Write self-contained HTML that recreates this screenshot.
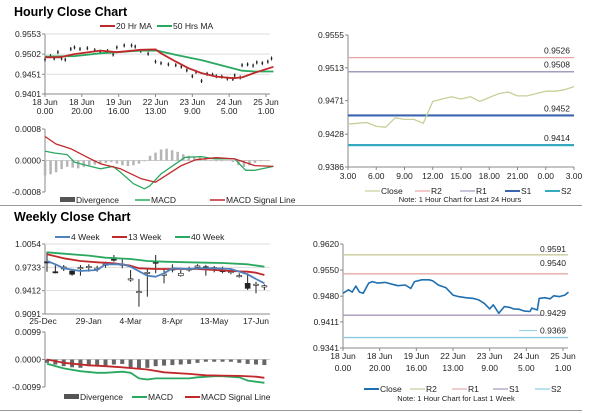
<!DOCTYPE html>
<html><head><meta charset="utf-8"><style>
body{margin:0;background:#fff;}
svg{display:block;font-family:"Liberation Sans",sans-serif;}
</style></head><body>
<svg id="c" width="600" height="413" viewBox="0 0 600 413">
<line x1="0" y1="205.5" x2="582" y2="205.5" stroke="#999"/>
<line x1="0" y1="410.5" x2="582" y2="410.5" stroke="#999"/>
<text x="14" y="16" font-size="12.5" font-weight="bold">Hourly Close Chart</text>
<text x="14" y="221" font-size="12.5" font-weight="bold">Weekly Close Chart</text>
</svg>
<script>
// ---------- data ----------
const hrHours=[0,3,5,7,9,11,14,16,19,23,27,30,34,37,39,43,47,49,52,56,60,63,67,71,74,77,80,82,85,88,91,93,96,99,102,103,106,107,110,113,115,118,121,123];
const hrClose=[0.9488,0.9497,0.9491,0.9507,0.9491,0.9488,0.9515,0.9519,0.9515,0.9517,0.9512,0.9508,0.9510,0.9501,0.9519,0.9524,0.9524,0.9521,0.9510,0.9503,0.9483,0.9479,0.9476,0.9474,0.9470,0.9461,0.9446,0.9457,0.9434,0.9452,0.9450,0.9446,0.9445,0.9440,0.9439,0.9448,0.9443,0.9474,0.9476,0.9473,0.9481,0.9479,0.9483,0.9491];
const ma20Hours=[0,8,16,30,39,52,60,63,71,78,85,93,102,107,114,124];
const ma20=[0.9494,0.9494,0.9502,0.9511,0.9507,0.9513,0.9514,0.9504,0.9483,0.9466,0.9454,0.9445,0.9441,0.9443,0.9455,0.9470];
const ma50Hours=[0,16,30,52,61,71,85,107,114,124];
const ma50=[0.9496,0.9497,0.9504,0.9511,0.9511,0.9500,0.9487,0.9460,0.9458,0.9458];
const hrTickLabels=[["18 Jun","0.00"],["18 Jun","20.00"],["19 Jun","16.00"],["22 Jun","13.00"],["23 Jun","9.00"],["24 Jun","5.00"],["25 Jun","1.00"]];
const hrTickHours=[0,20,40,60,80,100,120];
const hrMacdHours=[0,5,12,16,23,30,37,41,48,54,57,63,71,76,85,92,103,109,114,124];
const hrMacd=[0.00024,0.00019,0.00015,-0.00004,-0.00013,-0.00021,-0.00015,-0.0003,-0.00059,-0.00072,-0.00064,-0.00034,-0.00008,0.00008,0.0001,0.00004,0.00004,-0.00025,-0.00025,-0.00015];
const hrSigHours=[0,6,14,23,30,41,52,60,67,74,82,93,103,114,124];
const hrSig=[0.00061,0.00042,0.0003,0.00008,-0.00008,-0.00021,-0.00046,-0.00055,-0.00034,-0.00013,0.00002,0.00007,0.00004,-0.00013,-0.00015];
const hrDiv=[-0.00038,-0.00035,-0.0003,-0.00022,-0.00016,-0.00018,-0.0002,-0.00016,-0.00012,-0.0001,-0.00008,-0.00006,-0.00004,-0.00008,-0.00012,-0.00014,-0.00012,-0.00008,-0.00002,0.00012,0.0002,0.00028,0.0003,0.00026,0.00022,0.00016,0.00012,0.00008,0.00008,0.00004,0.00002,-0.00002,-0.00002,0,-0.00004,-0.00012,-0.00016,-0.00012,-0.00006,-0.00002,0,0];

const dayLabels=["3.00","6.00","9.00","12.00","15.00","18.00","21.00","0.00","3.00"];
const dayClose=[0.9441,0.9442,0.9443,0.9438,0.9437,0.9449,0.9447,0.9447,0.9442,0.9470,0.9473,0.9476,0.9473,0.9476,0.9470,0.9475,0.9480,0.9482,0.9477,0.9477,0.9480,0.9483,0.9483,0.9485,0.9489];
const dayLevels=[0.9526,0.9508,0.9452,0.9414];
const weekLevels=[0.9591,0.9540,0.9429,0.9369];

const wkLabels=["25-Dec","29-Jan","4-Mar","8-Apr","13-May","17-Jun"];
const wkOpen=[0.9811,0.9673,0.9711,0.9682,0.9725,0.9740,0.9720,0.9775,0.9866,0.9775,0.9572,0.9398,0.9651,0.9811,0.9637,0.9710,0.9618,0.9710,0.9751,0.9742,0.9710,0.9690,0.9673,0.9618,0.9513,0.9499,0.9462];
const wkClose=[0.9793,0.9665,0.9738,0.9637,0.9730,0.9745,0.9722,0.9778,0.9830,0.9777,0.9575,0.9400,0.9664,0.9788,0.9640,0.9712,0.9651,0.9712,0.9753,0.9730,0.9730,0.9673,0.9675,0.9620,0.9444,0.9501,0.9480];
const wkHigh=[0.9948,0.9765,0.9765,0.9696,0.9765,0.9775,0.9755,0.9811,0.9903,0.9857,0.9696,0.9572,0.9720,0.9903,0.9720,0.9775,0.9696,0.9742,0.9775,0.9765,0.9751,0.9742,0.9720,0.9651,0.9651,0.9535,0.9499];
const wkLow=[0.9673,0.9651,0.9682,0.9618,0.9618,0.9673,0.9673,0.9728,0.9811,0.9720,0.9535,0.9191,0.9329,0.9651,0.9513,0.9664,0.9604,0.9673,0.9720,0.9618,0.9664,0.9651,0.9637,0.9590,0.9421,0.9376,0.9421];
const w4Weeks=[0,1,2,4,6,7,9,10,12,13,14,15,17,18,20,22,24,25,26];
const w4=[0.9820,0.9775,0.9720,0.9682,0.9696,0.9775,0.9775,0.9742,0.9618,0.9604,0.9651,0.9720,0.9710,0.9720,0.9720,0.9710,0.9637,0.9572,0.9513];
const w13Weeks=[0,2,4,6,8,10,11,13,14,16,18,20,22,24,25,26];
const w13=[0.9912,0.9857,0.9820,0.9802,0.9788,0.9755,0.9720,0.9710,0.9710,0.9710,0.9710,0.9696,0.9682,0.9673,0.9659,0.9627];
const w40Weeks=[0,2,5,7,10,12,14,17,19,21,24,26];
const w40=[0.9940,0.9921,0.9894,0.9866,0.9848,0.9820,0.9811,0.9802,0.9797,0.9793,0.9775,0.9742];
const wMacdWeeks=[0,2,4,6,7,9,10,11,12,13,15,17,18,20,21,23,24,26];
const wMacd=[-0.0015,-0.0032,-0.0042,-0.0048,-0.0048,-0.0044,-0.0048,-0.0068,-0.0072,-0.0068,-0.0068,-0.0068,-0.0064,-0.006,-0.006,-0.0064,-0.0076,-0.0084];
const wSigWeeks=[0,2,5,7,9,12,14,17,19,21,23,25,26];
const wSig=[0,-0.0012,-0.0021,-0.0024,-0.0028,-0.0036,-0.0046,-0.0052,-0.0057,-0.0058,-0.0059,-0.0062,-0.0066];
const wDiv=[-0.0012,-0.0018,-0.0024,-0.0028,-0.003,-0.0024,-0.0024,-0.0022,-0.0018,-0.0016,-0.003,-0.0036,-0.003,-0.0024,-0.0022,-0.002,-0.0018,-0.0016,-0.0012,-0.0008,-0.0008,-0.0008,-0.0008,-0.0012,-0.0016,-0.0018,-0.002];

// ---------- helpers ----------
const S=document.getElementById('c');const NS='http://www.w3.org/2000/svg';
function mk(tag,at,txt){const e=document.createElementNS(NS,tag);for(const k in at)e.setAttribute(k,at[k]);if(txt!==undefined)e.textContent=txt;S.appendChild(e);return e;}
function lin(d0,d1,r0,r1){return v=>r0+(v-d0)*(r1-r0)/(d1-d0);}
function txt(x,y,s,anchor,size,name){const e=mk('text',{x:x,y:y,'font-size':size||8.5,'text-anchor':anchor||'start',fill:'#222'},s);

return e;}
function line(x1,y1,x2,y2,col,w,name){const e=mk('line',{x1:x1,y1:y1,x2:x2,y2:y2,stroke:col,'stroke-width':w||1});

return e;}
function poly(xs,ys,X,Y,col,w,name){const p=xs.map((x,i)=>X(x).toFixed(1)+','+Y(ys[i]).toFixed(1)).join(' ');
const e=mk('polyline',{points:p,fill:'none',stroke:col,'stroke-width':w||1.5,'stroke-linejoin':'round'});

return e;}
function yAxis(x,X2,ticks,Y,fmt,grid,name){line(x,Y(ticks[0]),x,Y(ticks[ticks.length-1]),'#888',1,name+'-axis');
ticks.forEach(t=>{if(grid)line(x,Y(t),X2,Y(t),'#ddd',1,name+'-gridline');line(x-3,Y(t),x,Y(t),'#888',1,name+'-tick');
txt(x-4,Y(t)+3,fmt(t),'end',8.5,name+'-tick-label');});}
function legLine(x,y,col,w,label,name){line(x,y,x+15,y,col,w,name+'-swatch');txt(x+16,y+3,label,'start',8.5,name+'-label');}

// ---------- hourly price ----------
{const X=lin(0,120,45,266),Y=lin(0.9553,0.9401,34,94);
const ticks=[0.9553,0.9502,0.9451,0.9401];
yAxis(45,270,ticks,Y,v=>v.toFixed(4),true,'hourly-y');
line(45,94,270,94,'#888',1,'hourly-x-axis');
hrTickHours.forEach((h,i)=>{line(X(h),94,X(h),97,'#888',1,'hourly-x-tick');txt(X(h),105,hrTickLabels[i][0],'middle',8.5,'hourly-x-label');txt(X(h),114,hrTickLabels[i][1],'middle',8.5,'hourly-x-label');});
hrHours.forEach((h,i)=>{const y=Y(hrClose[i]);line(X(h),y-2,X(h),y+2,'#222',1,'hourly-candle');mk('rect',{x:X(h)-0.8,y:y-0.8,width:1.6,height:1.6,fill:'#222',});});
poly(ma50Hours,ma50,X,Y,'#2aa860',1.8,'ma50-line');
poly(ma20Hours,ma20,X,Y,'#c0282a',1.8,'ma20-line');
legLine(100,26,'#c0282a',2,'20 Hr MA','legend-ma20');legLine(157,26,'#2aa860',2,'50 Hrs MA','legend-ma50');}
// hourly MACD
{const X=lin(0,120,45,266),Y=lin(0.0008,-0.0008,129,192);
yAxis(45,270,[0.0008,0,-0.0008],Y,v=>v.toFixed(4),false,'hourly-macd-y');
line(45,Y(0),270,Y(0),'#ccc',1,'hourly-macd-zero');
hrDiv.forEach((d,i)=>{const x=X(i*3),y0=Y(0),y1=Y(d);const r=mk('rect',{x:x-1.2,y:Math.min(y0,y1),width:2.5,height:Math.abs(y1-y0),fill:'#b5b5b5'});

});
poly(hrMacdHours,hrMacd,X,Y,'#2aa860',1.3,'hourly-macd-line');
poly(hrSigHours,hrSig,X,Y,'#c0282a',1.3,'hourly-signal-line');
mk('rect',{x:60,y:197,width:15,height:5,fill:'#555',});
txt(76,203,'Divergence','start',8.5,'legend-divergence-label');
legLine(135,200,'#2aa860',1.5,'MACD','legend-macd');legLine(210,200,'#c0282a',1.5,'MACD Signal Line','legend-signal');}

// ---------- 24h chart ----------
{const X=lin(0,24,348,574),Y=lin(0.9555,0.9386,35,167);
yAxis(348,574,[0.9555,0.9513,0.9471,0.9428,0.9386],Y,v=>v.toFixed(4),false,'day-y');
line(348,167,574,167,'#888',1,'day-x-axis');
dayLabels.forEach((l,i)=>{line(X(i*3),167,X(i*3),170,'#888',1,'day-x-tick');txt(X(i*3),179,l,'middle',8.5,'day-x-label');});
const cols=['#e8a4a4','#a49cbc','#3a66b0','#36a8c0'],ws=[1.2,1.5,2.2,2.2],nm=['r2','r1','s1','s2'];
dayLevels.forEach((v,i)=>{line(348,Y(v),574,Y(v),cols[i],ws[i],'day-'+nm[i]+'-line');txt(570,Y(v)-4,v.toFixed(4),'end',8.5,'day-'+nm[i]+'-label');});
poly(dayClose.map((v,i)=>i),dayClose,X,Y,'#c8cf98',1.3,'day-close-line');
legLine(365,191,'#c8cf98',1.2,'Close','legend-day-close');legLine(415,191,cols[0],1.2,'R2','legend-day-r2');
legLine(460,191,cols[1],1.2,'R1','legend-day-r1');legLine(505,191,cols[2],2,'S1','legend-day-s1');legLine(545,191,cols[3],2,'S2','legend-day-s2');
txt(460,202,'Note: 1 Hour Chart for Last 24 Hours','middle',7.5,'day-note');}

// ---------- weekly price ----------
{const X=lin(0,25,47,256),Y=lin(1.0054,0.9091,244,314);
yAxis(45,270,[1.0054,0.9733,0.9412,0.9091],Y,v=>v.toFixed(4),true,'weekly-y');
line(45,314,270,314,'#888',1,'weekly-x-axis');
wkLabels.forEach((l,i)=>{const x=X(i*5);txt(i==0?x-4:x,324,l,'middle',8.5,'weekly-x-label');});
wkOpen.forEach((o,i)=>{const x=X(i),c=wkClose[i];line(x,Y(wkHigh[i]),x,Y(wkLow[i]),'#222',1,'weekly-candle-wick');
const top=Math.min(Y(o),Y(c)),h=Math.max(1.2,Math.abs(Y(o)-Y(c)));
const r=mk('rect',{x:x-2.5,y:top,width:5,height:h,fill:c>=o?'#fff':'#222',stroke:'#222','stroke-width':0.6});

});
poly(w40Weeks,w40,X,Y,'#2aa860',1.8,'w40-line');poly(w13Weeks,w13,X,Y,'#c0282a',1.8,'w13-line');poly(w4Weeks,w4,X,Y,'#4f81bd',1.8,'w4-line');
legLine(55,237,'#4f81bd',2,'4 Week','legend-w4');legLine(112,237,'#c0282a',2,'13 Week','legend-w13');legLine(175,237,'#2aa860',2,'40 Week','legend-w40');}
// weekly MACD
{const X=lin(0,25,47,256),Y=lin(0.0099,-0.0099,332,387);
yAxis(45,270,[0.0099,0,-0.0099],Y,v=>v.toFixed(4),false,'weekly-macd-y');
line(45,Y(0),270,Y(0),'#ccc',1,'weekly-macd-zero');
wDiv.forEach((d,i)=>{const r=mk('rect',{x:X(i)-2,y:Y(0),width:4,height:Y(d)-Y(0),fill:'#666'});

});
poly(wMacdWeeks,wMacd,X,Y,'#2aa860',1.8,'weekly-macd-line');poly(wSigWeeks,wSig,X,Y,'#c0282a',1.8,'weekly-signal-line');
mk('rect',{x:64,y:394,width:15,height:5,fill:'#555',});
txt(80,400,'Divergence','start',8.5,'legend-weekly-divergence-label');
legLine(132,397,'#2aa860',2,'MACD','legend-weekly-macd');legLine(185,397,'#c0282a',2,'MACD Signal Line','legend-weekly-signal');}

// ---------- 1 week hourly ----------
{const X=lin(0,120,343,563),Y=lin(0.9620,0.9341,244,348);
yAxis(343,568,[0.9620,0.9550,0.9480,0.9411,0.9341],Y,v=>v.toFixed(4),false,'week-y');
line(343,348,568,348,'#888',1,'week-x-axis');
hrTickHours.forEach((h,i)=>{line(X(h),348,X(h),351,'#888',1,'week-x-tick');txt(X(h),359,hrTickLabels[i][0],'middle',8.5,'week-x-label');txt(X(h),371,hrTickLabels[i][1],'middle',8.5,'week-x-label');});
const cols=['#c9cc98','#e6aaaa','#a898b8','#8ccbe2'],nm=['r2','r1','s1','s2'];
weekLevels.forEach((v,i)=>line(343,Y(v),568,Y(v),cols[i],1.3,'week-'+nm[i]+'-line'));
poly(hrHours,hrClose,X,Y,'#1f6fb0',1.6,'week-close-line');
txt(566,Y(weekLevels[0])-3,weekLevels[0].toFixed(4),'end',8.5,'week-r2-label');
txt(566,Y(weekLevels[1])-8,weekLevels[1].toFixed(4),'end',8.5,'week-r1-label');
mk('rect',{x:541,y:Y(weekLevels[2])-7,width:27,height:9,fill:'#fff',});
txt(566,Y(weekLevels[2])+1,weekLevels[2].toFixed(4),'end',8.5,'week-s1-label');
line(519,Y(weekLevels[3])-7,537,Y(weekLevels[3])-7,cols[3],1,'week-s2-leader');
txt(566,Y(weekLevels[3])-4,weekLevels[3].toFixed(4),'end',8.5,'week-s2-label');
legLine(364,389,'#1f6fb0',2,'Close','legend-week-close');legLine(410,389,cols[0],1.2,'R2','legend-week-r2');
legLine(452,389,cols[1],1.2,'R1','legend-week-r1');legLine(493,389,cols[2],1.2,'S1','legend-week-s1');legLine(535,389,cols[3],1.2,'S2','legend-week-s2');
txt(456,401,'Note: 1 Hour Chart for Last 1 Week','middle',7.5,'week-note');}
</script>
</body></html>
